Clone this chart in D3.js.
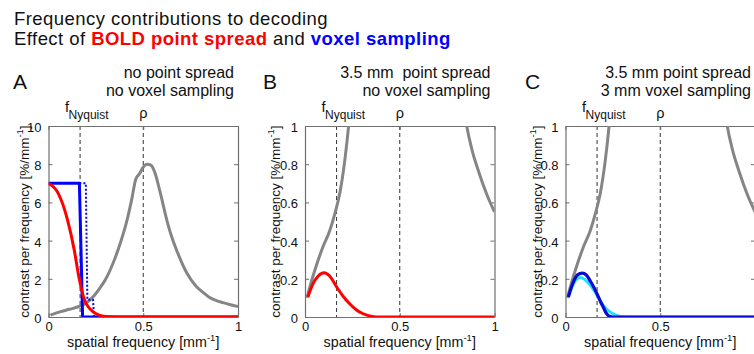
<!DOCTYPE html>
<html><head><meta charset="utf-8">
<script src="https://cdn.jsdelivr.net/npm/d3@7"></script>
<style>
html,body{margin:0;padding:0;background:#fff;}
svg{display:block;font-family:"Liberation Sans",Arial,Helvetica,sans-serif;}
</style></head>
<body><svg id="chart" width="754" height="354"></svg>
<script>
// ---- data ----
const freqNyquist = 1/6;
const rho = 0.5;
// underlying pattern spectrum (grey), same in all panels
const greyX = [0.01,0.035,0.06,0.096,0.13,0.16,0.184,0.21,0.23,0.27,0.3,0.34,0.38,0.41,0.44,0.46,0.48,0.5,0.52,0.54,0.56,0.59,0.625,0.65,0.68,0.73,0.78,0.8,0.82,0.85,0.88,0.92,0.96,1.0];
const greyY = [0.1,0.19,0.27,0.37,0.45,0.55,0.65,0.82,1.0,1.5,1.95,2.8,3.9,4.9,6.2,7.2,7.5,7.85,8.0,7.95,7.6,6.5,5.05,4.2,3.4,2.3,1.6,1.42,1.25,1.02,0.88,0.75,0.64,0.55];
// panel A
const redAX = [0,0.05,0.1,0.136,0.162,0.19,0.237,0.3,0.35,1];
const redAY = [7,6.5,5.1,3.5,2.0,0.9,0.26,0.02,0,0];
const blueAX = [0,0.163,0.18,1];
const blueAY = [7,7,0,0];
const blueDotX = [0.163,0.197,0.205,0.235,0.24];
const blueDotY = [7,7,0.9,0.9,0];
// panel B
const redBX = [0.015,0.04,0.07,0.1,0.13,0.167,0.2,0.237,0.27,0.307,0.34,0.38,1];
const redBY = [0.105,0.17,0.215,0.232,0.215,0.157,0.11,0.068,0.038,0.017,0.006,0,0];
// panel C
const cyanCX = [0.015,0.04,0.06,0.078,0.1,0.15,0.18,0.2,0.233,0.26,0.29,0.32,1];
const cyanCY = [0.105,0.17,0.2,0.207,0.198,0.14,0.09,0.06,0.028,0.012,0.003,0,0];
const blueCX = [0.015,0.04,0.065,0.088,0.11,0.13,0.15,0.167,0.185,0.2,0.215,0.235,0.25,1];
const blueCY = [0.105,0.18,0.222,0.23,0.22,0.19,0.155,0.12,0.08,0.05,0.02,0.002,0,0];
// ticks / labels
const xTicks = [0,0.5,1];
const yTicksA = [0,2,4,6,8,10];
const yTicksBC = [0,0.2,0.4,0.6,0.8,1];
const panelLetters = ["A","B","C"];
const panelTitles = [["no point spread","no voxel sampling"],["3.5 mm  point spread","no voxel sampling"],["3.5 mm point spread","3 mm voxel sampling"]];

// ---- layout ----
const svg = d3.select("#chart");
const pTop = 126, pBot = 317, W = 189.5;
const lefts = [48.5, 305, 565.5];
const letterX = [13, 263, 525];
const ylabOff = [20, 25, 24];
const GREY = "#858585", AX = "#707070";

const title = svg.append("text").attr("x",14).attr("y",24.5).attr("font-size",18.5)
  .attr("letter-spacing",0.45).attr("fill","#111");
title.text("Frequency contributions to decoding");
const t2 = svg.append("text").attr("x",14).attr("y",44.5).attr("font-size",18.5)
  .attr("letter-spacing",0.45).attr("fill","#111");
t2.append("tspan").text("Effect of ");
t2.append("tspan").attr("fill","#ff0000").attr("font-weight","bold").text("BOLD point spread");
t2.append("tspan").text(" and ");
t2.append("tspan").attr("fill","#0000ff").attr("font-weight","bold").text("voxel sampling");

const defs = svg.append("defs");

function zip(xs, ys){ return xs.map((x,i)=>[x,ys[i]]); }

function panel(i, yMax, yTicks, series, hideLastX){
  const L = lefts[i];
  const x = d3.scaleLinear().domain([0,1]).range([L, L+W]);
  const y = d3.scaleLinear().domain([0,yMax]).range([pBot, pTop]);
  const g = svg.append("g");
  defs.append("clipPath").attr("id","clip"+i).append("rect")
    .attr("x",L).attr("y",pTop).attr("width",W).attr("height",pBot-pTop);

  [freqNyquist, rho].forEach(v=>{
    g.append("line").attr("x1",x(v)).attr("x2",x(v)).attr("y1",pTop).attr("y2",pBot)
      .attr("stroke","#333").attr("stroke-width",1).attr("stroke-dasharray","4,3");
  });

  const axL = d3.axisLeft(y).tickValues(yTicks).tickSizeInner(-4).tickSizeOuter(0).tickPadding(7)
     .tickFormat(d=>d3.format("~g")(d));
  const axR = d3.axisRight(y).tickValues(yTicks).tickSizeInner(-4).tickSizeOuter(0).tickFormat("");
  const axB = d3.axisBottom(x).tickValues(xTicks).tickSizeInner(-4).tickSizeOuter(0).tickPadding(5)
     .tickFormat(d=>(hideLastX && d===1) ? "" : d3.format("~g")(d));
  const axT = d3.axisTop(x).tickValues(xTicks).tickSizeInner(-4).tickSizeOuter(0).tickFormat("");
  const gl = g.append("g").attr("transform",`translate(${L},0)`).call(axL);
  const gr = g.append("g").attr("transform",`translate(${L+W},0)`).call(axR);
  const gb = g.append("g").attr("transform",`translate(0,${pBot})`).call(axB);
  const gt = g.append("g").attr("transform",`translate(0,${pTop})`).call(axT);
  [gl,gr,gb,gt].forEach(a=>{
    a.select(".domain").attr("stroke",AX).attr("stroke-width",1.2);
    a.selectAll(".tick line").attr("stroke",AX);
    a.selectAll("text").attr("font-size",13).attr("fill","#111")
      .attr("font-family",'"Liberation Sans",Arial,sans-serif');
  });
  gl.selectAll("text").attr("dy","0.42em");

  const line = d3.line().x(d=>x(d[0])).y(d=>y(d[1])).curve(d3.curveMonotoneX);
  const cg = g.append("g").attr("clip-path",`url(#clip${i})`);
  series.forEach(s=>{
    const ln = s.step ? d3.line().x(d=>x(d[0])).y(d=>y(d[1])) : line;
    cg.append("path").datum(s.data).attr("d",ln).attr("fill","none")
      .attr("stroke",s.color).attr("stroke-width",s.w||3)
      .attr("stroke-dasharray",s.dash||null).attr("stroke-linejoin","round");
  });

  svg.append("text").attr("x",letterX[i]).attr("y",89).attr("font-size",21).attr("fill","#111").text(panelLetters[i]);
  panelTitles[i].forEach((t,k)=>{
    svg.append("text").attr("x",L+W-4).attr("y",78+k*18).attr("text-anchor","end")
      .attr("font-size",16).attr("fill","#111").attr("xml:space","preserve").text(t);
  });
  const fN = svg.append("text").attr("x",x(freqNyquist)-15).attr("y",112).attr("fill","#111");
  fN.append("tspan").attr("font-size",14.5).text("f");
  fN.append("tspan").attr("font-size",12).attr("dy",6.5).attr("dx",-0.5).text("Nyquist");
  svg.append("text").attr("x",x(rho)).attr("y",118).attr("text-anchor","middle")
    .attr("font-size",14.5).attr("fill","#111").text("ρ");

  const xl = svg.append("text").attr("x",L+W/2).attr("y",347).attr("text-anchor","middle")
    .attr("font-size",14.3).attr("fill","#111");
  xl.append("tspan").text("spatial frequency [mm");
  xl.append("tspan").attr("font-size",9.5).attr("dy",-6).text("-1");
  xl.append("tspan").attr("dy",6).text("]");

  const yc = (pTop+pBot)/2, yx = L-ylabOff[i];
  const yl = svg.append("text").attr("transform",`translate(${yx},${yc}) rotate(-90)`)
    .attr("text-anchor","middle").attr("font-size",13.5).attr("fill","#111");
  yl.append("tspan").text("contrast per frequency [%/mm");
  yl.append("tspan").attr("font-size",9.5).attr("dy",-6).text("-1");
  yl.append("tspan").attr("dy",6).text("]");
}

const grey = zip(greyX, greyY);
panel(0, 10, yTicksA, [
  {data:grey, color:GREY},
  {data:zip(blueDotX,blueDotY), color:"#0000ff", w:2, dash:"2,2", step:true},
  {data:zip(blueAX,blueAY), color:"#0000ff", step:true},
  {data:zip(redAX,redAY), color:"#ff0000"}
], false);
panel(1, 1, yTicksBC, [
  {data:grey, color:GREY},
  {data:zip(redBX,redBY), color:"#ff0000"}
], false);
panel(2, 1, yTicksBC, [
  {data:grey, color:GREY},
  {data:zip(cyanCX,cyanCY), color:"#22e0ff"},
  {data:zip(blueCX,blueCY), color:"#0a0ad0", w:3.2}
], true);
</script></body></html>
